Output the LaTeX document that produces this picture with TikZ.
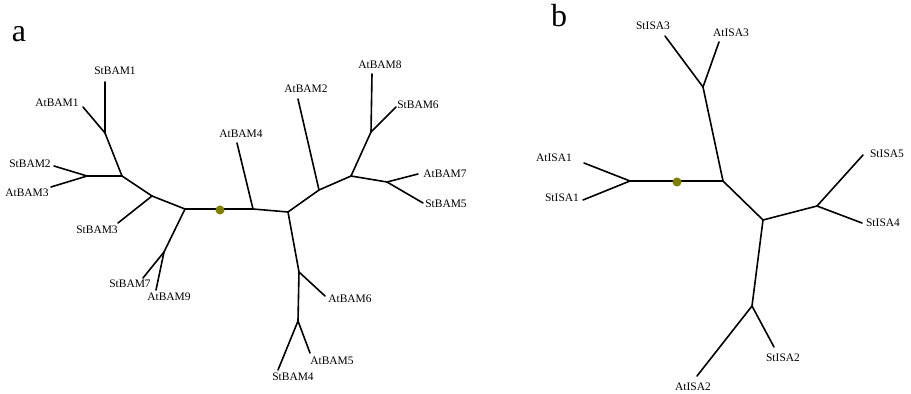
\documentclass[tikz,border=0pt]{standalone}
\usepackage{fontspec}
\setmainfont{Liberation Serif}
\definecolor{rootolive}{RGB}{128,128,0}
\begin{document}
\begin{tikzpicture}[x=0.75pt,y=-0.75pt,
  branch/.style={line width=1.2pt,line cap=round,line join=round},
  leaf/.style={font=\fontsize{8.6}{10}\selectfont,inner sep=0pt},
  panel/.style={font=\fontsize{24}{26}\selectfont,inner sep=0pt},
  rootdot/.style={circle,fill=rootolive,minimum size=6.8pt,inner sep=0pt}]
\useasboundingbox (0,0) rectangle (911,393);

% ---------- panel a : BAM tree ----------
\node[panel] (pa) at (19,34) {a};
\coordinate (a1) at (105,133);
\coordinate (a2) at (87,176);
\coordinate (a3) at (122,176);
\coordinate (a4) at (152,196);
\coordinate (a5) at (185,209);
\coordinate (a6) at (164,252);
\coordinate (a7) at (253,209);
\coordinate (a8) at (288,212);
\coordinate (a9) at (319,190);
\coordinate (a10) at (351,176);
\coordinate (a11) at (371,132);
\coordinate (a12) at (387,182);
\coordinate (a13) at (299,272);
\coordinate (a14) at (298,321);

\coordinate (tStBAMi) at (105,82);
\coordinate (tAtBAMi) at (83,107);
\coordinate (tStBAMii) at (54,166);
\coordinate (tAtBAMiii) at (51,187);
\coordinate (tStBAMiii) at (118,223);
\coordinate (tStBAMvii) at (143,278);
\coordinate (tAtBAMix) at (156,290);
\coordinate (tAtBAMiv) at (237,143);
\coordinate (tAtBAMii) at (298,99);
\coordinate (tAtBAMviii) at (372,74);
\coordinate (tStBAMvi) at (396,107);
\coordinate (tAtBAMvii) at (418,174);
\coordinate (tStBAMv) at (423,203);
\coordinate (tAtBAMvi) at (325,296);
\coordinate (tAtBAMv) at (310,353);
\coordinate (tStBAMiv) at (278,370);

\node[leaf] (lStBAMi) at (115,71) {StBAM1};
\node[leaf] (lAtBAMi) at (57,103) {AtBAM1};
\node[leaf] (lStBAMii) at (30,164) {StBAM2};
\node[leaf] (lAtBAMiii) at (27,193) {AtBAM3};
\node[leaf] (lStBAMiii) at (97,230) {StBAM3};
\node[leaf] (lStBAMvii) at (130,284) {StBAM7};
\node[leaf] (lAtBAMix) at (169,297) {AtBAM9};
\node[leaf] (lAtBAMiv) at (241,134) {AtBAM4};
\node[leaf] (lAtBAMii) at (306,89) {AtBAM2};
\node[leaf] (lAtBAMviii) at (380,65) {AtBAM8};
\node[leaf] (lStBAMvi) at (418,105) {StBAM6};
\node[leaf] (lAtBAMvii) at (445,174) {AtBAM7};
\node[leaf] (lStBAMv) at (446,204) {StBAM5};
\node[leaf] (lAtBAMvi) at (350,299) {AtBAM6};
\node[leaf] (lAtBAMv) at (332,361) {AtBAM5};
\node[leaf] (lStBAMiv) at (293,377) {StBAM4};

\draw[branch] (a5) -- (a7) -- (a8) -- (a9) -- (a10) -- (a11);
\draw[branch] (a10) -- (a12);
\draw[branch] (a8) -- (a13) -- (a14);
\draw[branch] (a5) -- (a4) -- (a3) -- (a1);
\draw[branch] (a3) -- (a2);
\draw[branch] (a5) -- (a6);
\draw[branch] (a1) -- (tStBAMi);
\draw[branch] (a1) -- (tAtBAMi);
\draw[branch] (a2) -- (tStBAMii);
\draw[branch] (a2) -- (tAtBAMiii);
\draw[branch] (a4) -- (tStBAMiii);
\draw[branch] (a6) -- (tStBAMvii);
\draw[branch] (a6) -- (tAtBAMix);
\draw[branch] (a7) -- (tAtBAMiv);
\draw[branch] (a9) -- (tAtBAMii);
\draw[branch] (a11) -- (tAtBAMviii);
\draw[branch] (a11) -- (tStBAMvi);
\draw[branch] (a12) -- (tAtBAMvii);
\draw[branch] (a12) -- (tStBAMv);
\draw[branch] (a13) -- (tAtBAMvi);
\draw[branch] (a14) -- (tAtBAMv);
\draw[branch] (a14) -- (tStBAMiv);
\node[rootdot] (rootA) at (220,210) {};

% ---------- panel b : ISA tree ----------
\node[panel] (pb) at (559,16) {b};
\coordinate (b1) at (703,87);
\coordinate (b2) at (723,181);
\coordinate (b3) at (630,181);
\coordinate (b4) at (763,220);
\coordinate (b5) at (817,206);
\coordinate (b6) at (752,306);

\coordinate (tStISAiii) at (665,36);
\coordinate (tAtISAiii) at (719,42);
\coordinate (tAtISAi) at (584,163);
\coordinate (tStISAi) at (583,200);
\coordinate (tStISAv) at (863,155);
\coordinate (tStISAiv) at (862,223);
\coordinate (tAtISAii) at (697,376);
\coordinate (tStISAii) at (774,347);

\node[leaf] (lStISAiii) at (653,26) {StISA3};
\node[leaf] (lAtISAiii) at (731,33) {AtISA3};
\node[leaf] (lAtISAi) at (554,158) {AtISA1};
\node[leaf] (lStISAi) at (562,198) {StISA1};
\node[leaf] (lStISAv) at (887,154) {StISA5};
\node[leaf] (lStISAiv) at (883,223) {StISA4};
\node[leaf] (lAtISAii) at (693,387) {AtISA2};
\node[leaf] (lStISAii) at (783,358) {StISA2};

\draw[branch] (b3) -- (b2) -- (b1);
\draw[branch] (b2) -- (b4) -- (b5);
\draw[branch] (b4) -- (b6);
\draw[branch] (b1) -- (tStISAiii);
\draw[branch] (b1) -- (tAtISAiii);
\draw[branch] (b3) -- (tAtISAi);
\draw[branch] (b3) -- (tStISAi);
\draw[branch] (b5) -- (tStISAv);
\draw[branch] (b5) -- (tStISAiv);
\draw[branch] (b6) -- (tAtISAii);
\draw[branch] (b6) -- (tStISAii);
\node[rootdot] (rootB) at (677,182) {};
\end{tikzpicture}
\end{document}
